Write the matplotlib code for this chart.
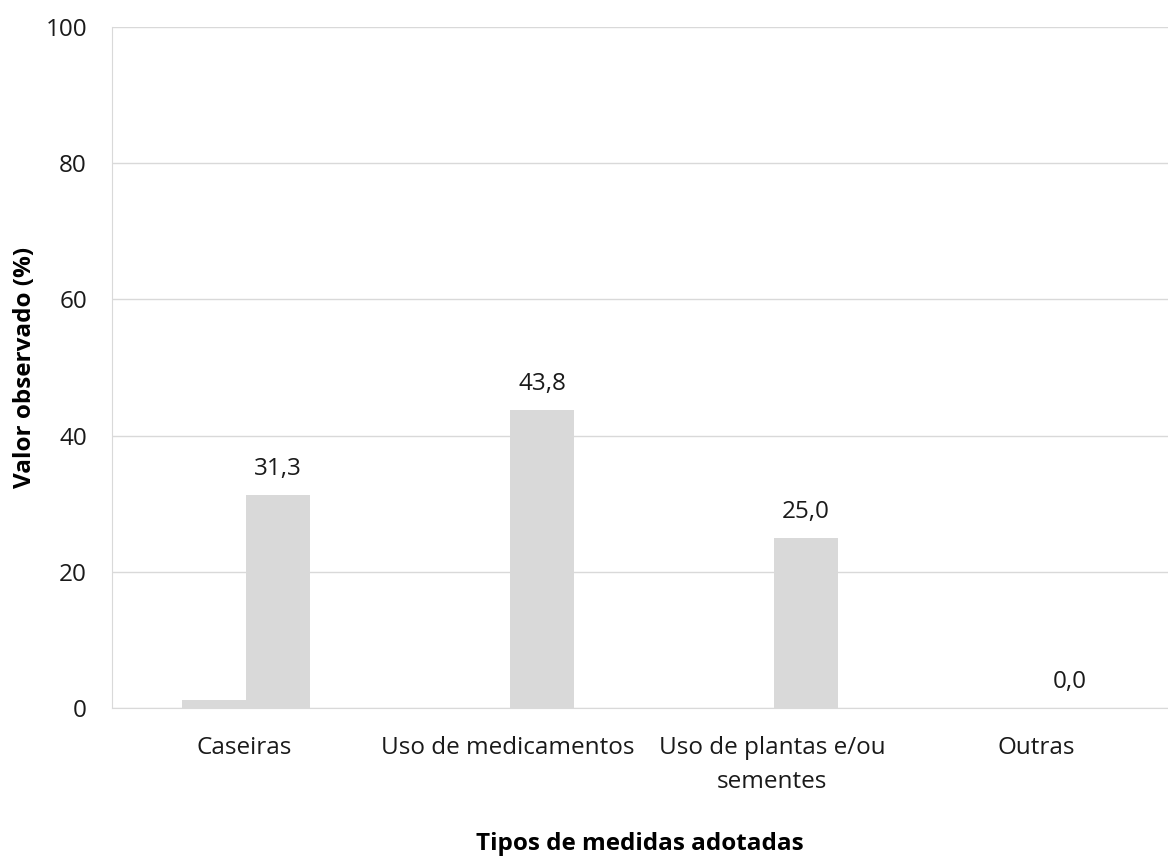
import numpy as np
import matplotlib.pyplot as plt

categories = ["Caseiras", "Uso de medicamentos", "Uso de plantas e/ou\nsementes", "Outras"]
serie_a = [1.2, 0.0, 0.0, 0.0]
serie_b = [31.3, 43.8, 25.0, 0.0]
labels_b = ["31,3", "43,8", "25,0", "0,0"]

plt.rcParams['font.family'] = ['Open Sans', 'DejaVu Sans']

fig = plt.figure(figsize=(11.68, 8.59), dpi=100)
ax = fig.add_axes([112 / 1168, 1 - 708 / 859, (1168 - 112) / 1168, (708 - 27) / 859])

x = np.arange(len(categories))
w = 0.242
bar_color = "#d9d9d9"
ax.bar(x - w / 2 + 0.008, serie_a, width=w, color=bar_color, zorder=2)
bars = ax.bar(x + w / 2 + 0.008, serie_b, width=w, color=bar_color, zorder=2)
for b, lab in zip(bars, labels_b):
    ax.annotate(lab, (b.get_x() + b.get_width() / 2, b.get_height()),
                xytext=(0, 10), textcoords="offset points",
                ha="center", va="bottom", fontsize=17.5, color="#1a1a1a")

ax.set_xlim(-0.5, 3.5)
ax.set_ylim(0, 100)
ax.set_yticks(range(0, 101, 20))
ax.set_xticks(x)
ax.set_xticklabels(categories, fontsize=17.5, color="#1a1a1a", linespacing=1.55)
ax.tick_params(axis="y", labelsize=17.5, labelcolor="#1a1a1a", length=0, pad=18)
ax.tick_params(axis="x", length=0, pad=20)
ax.yaxis.grid(True, color="#d9d9d9", linewidth=1, zorder=0)
for s in ["top", "right"]:
    ax.spines[s].set_visible(False)
ax.spines["left"].set_color("#d9d9d9")
ax.spines["bottom"].set_color("#d9d9d9")

ax.set_xlabel("Tipos de medidas adotadas", fontsize=17.5, fontweight="bold")
ax.set_ylabel("Valor observado (%)", fontsize=17.5, fontweight="bold")
ax.xaxis.set_label_coords(0.5, -0.2)
ax.yaxis.set_label_coords(-0.082, 0.5)
ax.xaxis.label.set_va("center")
ax.yaxis.label.set_va("center")

fig.savefig("out.png", dpi=100)
